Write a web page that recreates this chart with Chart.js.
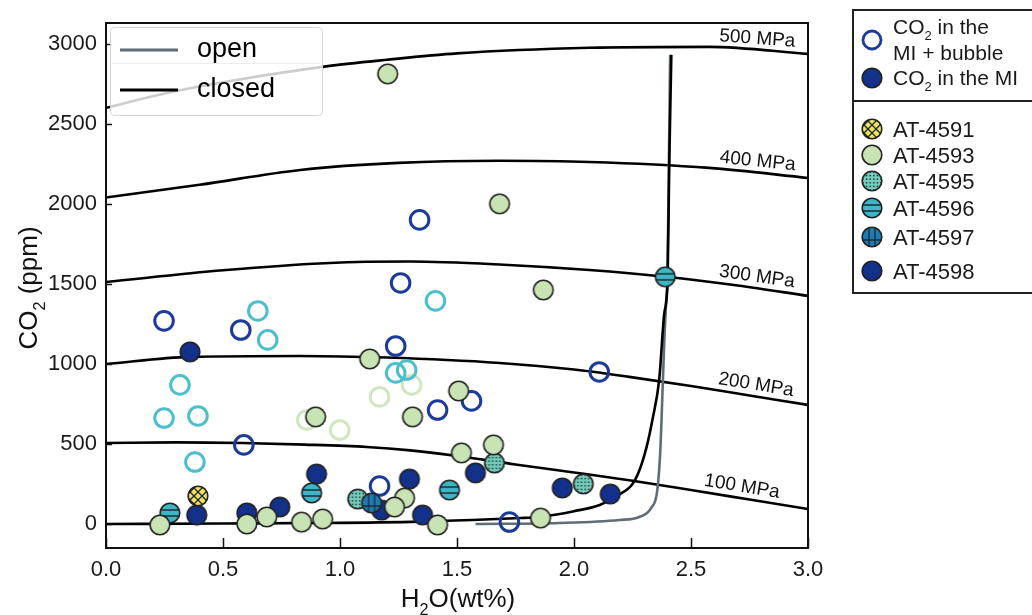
<!DOCTYPE html>
<html>
<head>
<meta charset="utf-8">
<script src="https://cdn.jsdelivr.net/npm/chart.js@4.4.1/dist/chart.umd.min.js"></script>
<style>
  html, body { margin: 0; padding: 0; background: #fff; }
</style>
</head>
<body>
<canvas id="Chart1" width="1032" height="615"></canvas>
<script>
var FONT = '"Liberation Sans", Arial, sans-serif';

// axis ticks
var xTickVals = [0, 0.5, 1.0, 1.5, 2.0, 2.5, 3.0];
var yTickVals = [0, 500, 1000, 1500, 2000, 2500, 3000];

// isobars (MPa) - H2O wt% vs CO2 ppm
var isoPressures = [100, 200, 300, 400, 500];
var iso100X = [0, 0.3, 0.585, 0.85, 1.114, 1.3, 1.5, 1.75, 2.0, 2.25, 2.5, 2.75, 3.0];
var iso100Y = [506, 510, 506, 496, 481, 460, 425, 372, 322, 270, 212, 153, 94];
var iso200X = [0, 0.359, 0.828, 1.2, 1.682, 2.0, 2.236, 2.5, 2.75, 3.0];
var iso200Y = [1000, 1044, 1050, 1040, 1006, 965, 919, 862, 803, 744];
var iso300X = [0, 0.5, 0.956, 1.3, 1.7, 2.066, 2.39, 2.7, 3.0];
var iso300Y = [1512, 1585, 1631, 1640, 1620, 1587, 1545, 1490, 1425];
var iso400X = [0, 0.4, 0.83, 1.25, 1.68, 2.066, 2.578, 3.0];
var iso400Y = [2040, 2119, 2212, 2256, 2269, 2262, 2225, 2162];
var iso500X = [0, 0.25, 0.5, 0.926, 1.2, 1.5, 2.066, 2.578, 3.0];
var iso500Y = [2600, 2690, 2760, 2856, 2900, 2940, 2975, 2981, 2937];

// degassing paths
var closedX = [0, 0.5, 0.91, 1.34, 1.77, 1.85, 2.0, 2.11, 2.19, 2.25, 2.28, 2.31, 2.335, 2.364, 2.386, 2.40, 2.407, 2.416];
var closedY = [0, 3, 6, 15, 37, 44, 80, 119, 181, 250, 337, 480, 650, 900, 1319, 1525, 2244, 2931];
var openX = [1.579, 1.938, 2.194, 2.279, 2.330, 2.356, 2.369, 2.377, 2.386, 2.394, 2.399, 2.405, 2.411];
var openY = [0, 6, 25, 44, 100, 212, 462, 775, 1150, 1400, 1525, 2200, 2931];

// CO2 in the MI + bubble (open rings)
var bubble4598X = [0.248, 0.576, 1.340, 1.259, 1.238, 0.589, 1.169, 1.417, 1.562, 2.108, 1.724];
var bubble4598Y = [1269, 1212, 1900, 1506, 1112, 494, 237, 712, 769, 950, 12];
var bubble4596X = [0.649, 0.691, 1.408, 0.316, 0.248, 0.393, 0.380, 1.238, 1.285];
var bubble4596Y = [1331, 1150, 1394, 869, 662, 675, 387, 944, 962];
var bubble4593X = [0.858, 0.999, 1.169, 1.306];
var bubble4593Y = [650, 587, 794, 869];

// CO2 in the MI (filled)
var at4591X = [0.393];
var at4591Y = [175];
var at4593X = [1.204, 1.682, 1.869, 1.127, 1.507, 1.310, 0.896, 1.519, 1.656, 1.857, 1.417, 1.276, 1.233, 0.926, 0.230, 0.602, 0.687, 0.836];
var at4593Y = [2812, 2000, 1462, 1031, 831, 669, 669, 444, 494, 37, -6, 162, 106, 31, -6, 0, 44, 12];
var at4595X = [1.076, 1.660, 2.040];
var at4595Y = [156, 381, 250];
var at4596X = [0.273, 0.879, 1.468, 2.390];
var at4596Y = [69, 194, 212, 1544];
var at4597X = [1.135];
var at4597Y = [131];
var at4598X = [0.359, 0.388, 0.602, 0.743, 0.900, 1.297, 1.353, 1.178, 1.579, 1.950, 2.155];
var at4598Y = [1075, 56, 69, 106, 312, 281, 56, 87, 319, 225, 187];

var sampleNames = ['AT-4591', 'AT-4593', 'AT-4595', 'AT-4596', 'AT-4597', 'AT-4598'];

function pts(xs, ys) {
	return xs.map(function (x, i) { return { x: x, y: ys[i] }; });
}

function lerp(xs, ys, x) {
	for (var i = 1; i < xs.length; i++) {
		if (x <= xs[i]) {
			var t = (x - xs[i - 1]) / (xs[i] - xs[i - 1]);
			return ys[i - 1] + t * (ys[i] - ys[i - 1]);
		}
	}
	return ys[ys.length - 1];
}

// patterned markers
function marker(fill, pattern) {
	var c = document.createElement('canvas');
	c.width = c.height = 24;
	var g = c.getContext('2d');
	g.beginPath();
	g.arc(12, 12, 9.8, 0, Math.PI * 2);
	g.fillStyle = fill;
	g.fill();
	if (pattern) {
		g.save();
		g.clip();
		g.strokeStyle = '#1f2b33';
		g.fillStyle = '#1f2b33';
		g.lineWidth = 1.3;
		pattern(g);
		g.restore();
	}
	g.beginPath();
	g.arc(12, 12, 9.8, 0, Math.PI * 2);
	g.lineWidth = 1.6;
	g.strokeStyle = '#222';
	g.stroke();
	return c;
}

function line(g, x1, y1, x2, y2) {
	g.beginPath(); g.moveTo(x1, y1); g.lineTo(x2, y2); g.stroke();
}

var mk4591 = marker('#f2e35a', function (g) {
	for (var k = -16; k <= 16; k += 8) {
		line(g, 0, 12 + k, 24, -12 + k);
		line(g, 0, -12 - k + 24, 24, 12 - k + 24);
	}
});
var mk4595 = marker('#72ccb9', function (g) {
	for (var i = 3; i < 23; i += 3.6) {
		for (var j = 3; j < 23; j += 3.6) {
			g.fillRect(i - 0.7, j - 0.7, 1.4, 1.4);
		}
	}
});
var mk4596 = marker('#3db6c6', function (g) {
	line(g, 0, 9, 24, 9);
	line(g, 0, 15, 24, 15);
});
var mk4597 = marker('#1c7db6', function (g) {
	line(g, 9, 0, 9, 24);
	line(g, 15, 0, 15, 24);
	line(g, 0, 15, 24, 15);
});
var mk4593 = marker('#c8e4b4', null);
var mk4598 = marker('#13318b', null);

var NAVY_RING = '#1b3a9a';
var CYAN_RING = '#4cbfcc';
var GREEN_RING = '#cfe6c1';

function isoSet(xs, ys) {
	return {
		data: pts(xs, ys), showLine: true, borderColor: '#000', borderWidth: 2.6,
		pointRadius: 0, cubicInterpolationMode: 'monotone', order: 20
	};
}
function ringSet(xs, ys, col) {
	return {
		data: pts(xs, ys), pointStyle: 'circle', pointRadius: 9.3, borderWidth: 3,
		borderColor: col, backgroundColor: 'rgba(0,0,0,0)', order: 10
	};
}
function dotSet(xs, ys, img, ord) {
	return { data: pts(xs, ys), pointStyle: img, pointRadius: 10, order: ord };
}

// draws text with subscript parts: [[text, isSub], ...]
function drawParts(ctx, parts, x, y, size, align) {
	var total = 0, widths = [];
	parts.forEach(function (p) {
		ctx.font = (p[1] ? size * 0.62 : size) + 'px ' + FONT;
		var w = ctx.measureText(p[0]).width;
		widths.push(w);
		total += w;
	});
	var cx = align === 'center' ? x - total / 2 : x;
	ctx.textAlign = 'left';
	parts.forEach(function (p, i) {
		ctx.font = (p[1] ? size * 0.62 : size) + 'px ' + FONT;
		ctx.fillText(p[0], cx, p[1] ? y + size * 0.3 : y);
		cx += widths[i];
	});
}

var isoLabelX = [2.71, 2.77, 2.775, 2.78, 2.78];
var isoArrays = [[iso100X, iso100Y], [iso200X, iso200Y], [iso300X, iso300Y], [iso400X, iso400Y], [iso500X, iso500Y]];

var decorations = {
	id: 'decorations',
	afterDatasetsDraw: function (chart) {
		var ctx = chart.ctx, a = chart.chartArea;
		var xs = chart.scales.x, ys = chart.scales.y;
		ctx.save();
		ctx.fillStyle = '#111';

		// isobar labels along the curves
		isoArrays.forEach(function (arr, i) {
			var lx = isoLabelX[i];
			var px = xs.getPixelForValue(lx);
			var py = ys.getPixelForValue(lerp(arr[0], arr[1], lx));
			var p1 = ys.getPixelForValue(lerp(arr[0], arr[1], lx - 0.15));
			var p2 = ys.getPixelForValue(lerp(arr[0], arr[1], lx + 0.15));
			var ang = Math.atan2(p2 - p1, xs.getPixelForValue(lx + 0.15) - xs.getPixelForValue(lx - 0.15));
			ctx.save();
			ctx.translate(px, py);
			ctx.rotate(ang);
			ctx.font = '19px ' + FONT;
			ctx.textAlign = 'center';
			ctx.textBaseline = 'bottom';
			ctx.fillText(isoPressures[i] + ' MPa', 0, -2);
			ctx.restore();
		});

		// frame and inward ticks
		ctx.strokeStyle = '#111';
		ctx.lineWidth = 2;
		ctx.strokeRect(a.left, a.top, a.right - a.left, a.bottom - a.top);
		ctx.lineWidth = 1.5;
		xTickVals.forEach(function (v) {
			var p = Math.round(xs.getPixelForValue(v)) + 0.5;
			line(ctx, p, a.bottom, p, a.bottom - 10);
		});
		yTickVals.forEach(function (v) {
			var p = Math.round(ys.getPixelForValue(v)) + 0.5;
			line(ctx, a.left, p, a.left + 6, p);
		});

		// open / closed legend
		ctx.beginPath();
		ctx.roundRect(110.5, 27.5, 212, 88, 4);
		ctx.fillStyle = 'rgba(255,255,255,0.8)';
		ctx.fill();
		ctx.strokeStyle = '#d6d6d6';
		ctx.lineWidth = 1;
		ctx.stroke();
		ctx.strokeStyle = '#ececec';
		line(ctx, 112, 63.5, 320, 63.5);
		ctx.lineWidth = 3;
		ctx.strokeStyle = '#5f6d74';
		line(ctx, 120, 50, 178, 50);
		ctx.strokeStyle = '#000';
		line(ctx, 120, 90, 178, 90);
		ctx.fillStyle = '#000';
		ctx.font = '27px ' + FONT;
		ctx.textAlign = 'left';
		ctx.textBaseline = 'middle';
		ctx.fillText('open', 197, 50);
		ctx.fillText('closed', 197, 90);

		// sample legend on the right
		ctx.lineWidth = 2;
		ctx.strokeStyle = '#222';
		ctx.strokeRect(853, 10, 200, 283);
		line(ctx, 853, 101, 1040, 101);
		ctx.textBaseline = 'alphabetic';
		ctx.fillStyle = '#1a1a1a';
		ctx.beginPath();
		ctx.arc(872, 40, 9, 0, Math.PI * 2);
		ctx.lineWidth = 2.8;
		ctx.strokeStyle = NAVY_RING;
		ctx.stroke();
		drawParts(ctx, [['CO', false], ['2', true], [' in the', false]], 893, 34, 21, 'left');
		drawParts(ctx, [['MI + bubble', false]], 893, 60, 21, 'left');
		ctx.drawImage(mk4598, 860, 66);
		drawParts(ctx, [['CO', false], ['2', true], [' in the MI', false]], 893, 85, 21, 'left');
		var imgs = [mk4591, mk4593, mk4595, mk4596, mk4597, mk4598];
		var rows = [129, 155, 181, 208, 237, 271];
		imgs.forEach(function (img, i) {
			ctx.drawImage(img, 860, rows[i] - 12);
			drawParts(ctx, [[sampleNames[i], false]], 893, rows[i] + 8, 22, 'left');
		});

		// axis titles with subscripts
		ctx.fillStyle = '#111';
		ctx.textBaseline = 'alphabetic';
		drawParts(ctx, [['H', false], ['2', true], ['O(wt%)', false]], 458, 607, 26, 'center');
		ctx.save();
		ctx.translate(37, 288);
		ctx.rotate(-Math.PI / 2);
		drawParts(ctx, [['CO', false], ['2', true], [' (ppm)', false]], 0, 0, 26, 'center');
		ctx.restore();

		ctx.restore();
	}
};

var context = document.getElementById('Chart1').getContext('2d');

var myChart = new Chart(context, {
	type: 'scatter',
	data: {
		datasets: [
			isoSet(iso100X, iso100Y),
			isoSet(iso200X, iso200Y),
			isoSet(iso300X, iso300Y),
			isoSet(iso400X, iso400Y),
			isoSet(iso500X, iso500Y),
			{
				label: 'open', data: pts(openX, openY), showLine: true, borderColor: '#5f6d74',
				borderWidth: 2.6, pointRadius: 0, cubicInterpolationMode: 'monotone', order: 19
			},
			{
				label: 'closed', data: pts(closedX, closedY), showLine: true, borderColor: '#000',
				borderWidth: 2.6, pointRadius: 0, cubicInterpolationMode: 'monotone', order: 18
			},
			ringSet(bubble4598X, bubble4598Y, NAVY_RING),
			ringSet(bubble4596X, bubble4596Y, CYAN_RING),
			ringSet(bubble4593X, bubble4593Y, GREEN_RING),
			dotSet(at4598X, at4598Y, mk4598, 8),
			dotSet(at4591X, at4591Y, mk4591, 7),
			dotSet(at4596X, at4596Y, mk4596, 6),
			dotSet(at4595X, at4595Y, mk4595, 5),
			dotSet(at4597X, at4597Y, mk4597, 4),
			dotSet(at4593X, at4593Y, mk4593, 3)
		]
	},
	options: {
		responsive: false,
		animation: false,
		layout: { padding: { top: 23, right: 224, left: 0, bottom: 0 } },
		plugins: { legend: { display: false }, tooltip: { enabled: false } },
		scales: {
			x: {
				type: 'linear', min: 0, max: 3,
				afterBuildTicks: function (s) { s.ticks = xTickVals.map(function (v) { return { value: v }; }); },
				afterFit: function (s) { s.height = 67; },
				grid: { display: false, drawTicks: false },
				border: { display: false },
				ticks: {
					padding: 9, color: '#1a1a1a', font: { family: FONT, size: 22 },
					callback: function (v) { return Number(v).toFixed(1); }
				}
			},
			y: {
				type: 'linear', min: -150, max: 3130,
				afterBuildTicks: function (s) { s.ticks = yTickVals.map(function (v) { return { value: v }; }); },
				afterFit: function (s) { s.width = 106; },
				grid: { display: false, drawTicks: false },
				border: { display: false },
				ticks: {
					padding: 9, color: '#1a1a1a', font: { family: FONT, size: 22 },
					callback: function (v) { return String(v); }
				}
			}
		}
	},
	plugins: [decorations]
});
</script>
</body>
</html>
